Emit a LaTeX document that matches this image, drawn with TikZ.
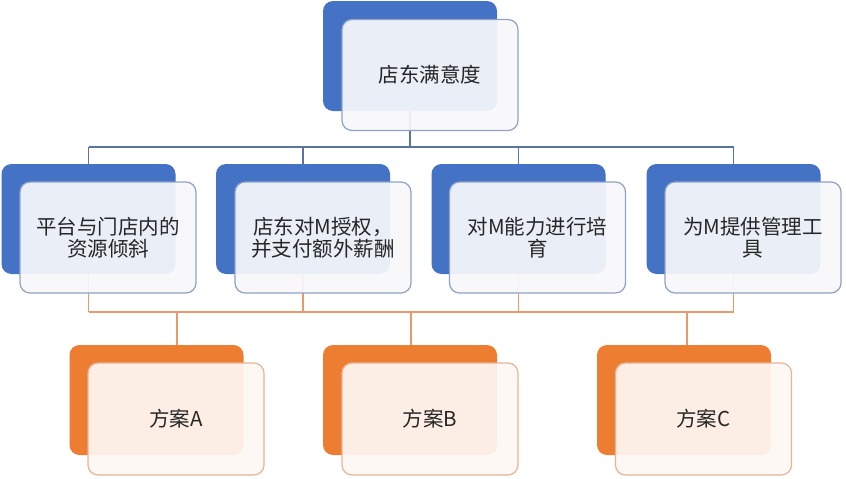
\documentclass[tikz,border=0pt]{standalone}
\usepackage{fontspec}
\setmainfont{Noto Sans CJK SC}
\definecolor{dblue}{HTML}{4472C4}
\definecolor{bfront}{HTML}{F7F8FB}
\definecolor{bborder}{HTML}{8EA2C6}
\definecolor{bline}{HTML}{5A74A0}
\definecolor{dorange}{HTML}{ED7D31}
\definecolor{ofront}{HTML}{FEF7F3}
\definecolor{oborder}{HTML}{E6B496}
\definecolor{oline}{HTML}{E99A6A}
\definecolor{txt}{HTML}{262626}
\tikzset{
  backb/.style={rectangle, rounded corners=10pt, fill=dblue, draw=none, minimum width=174pt, minimum height=110pt, inner sep=0pt},
  frontb/.style={rectangle, rounded corners=10pt, fill=bfront, fill opacity=0.93, draw=bborder, line width=1.2pt, minimum width=176pt, minimum height=111pt, inner sep=0pt, text opacity=1, text=txt, align=center, font=\fontsize{20.5}{22}\selectfont},
  backo/.style={backb, fill=dorange},
  fronto/.style={frontb, fill=ofront, draw=oborder},
  bconn/.style={draw=bline, line width=1.3pt},
  oconn/.style={draw=oline, line width=1.3pt},
}
\begin{document}
\begin{tikzpicture}[x=1pt,y=-1pt]
\useasboundingbox (0,0) rectangle (846,479);
% coordinates of buses
\coordinate (busB) at (0,147);
\coordinate (busO) at (0,312);
\coordinate (dA) at (177,312);
\coordinate (dB) at (411,312);
\coordinate (dC) at (687,312);
% back boxes (positions only, drawn later)
\path (410,56) node[backb, fill=none] (Tb) {};
\path (88.5,219) node[backb, fill=none] (L1b) {};
\path (303,219) node[backb, fill=none] (L2b) {};
\path (518.5,219) node[backb, fill=none] (L3b) {};
\path (733.5,219) node[backb, fill=none] (L4b) {};
\path (156.5,400) node[backb, fill=none] (Ab) {};
\path (410,400) node[backb, fill=none] (Bb) {};
\path (684,400) node[backb, fill=none] (Cb) {};
% connectors
\draw[bconn] (Tb.center) -- (Tb.center |- busB);
\draw[bconn] (L1b.north |- busB) -- (L4b.north |- busB);
\foreach \n in {L1b,L2b,L3b,L4b} {
  \draw[bconn] (\n.north |- busB) -- (\n.north);
  \draw[oconn] (\n.center) -- (\n.center |- busO);
}
\draw[oconn] (L1b.center |- busO) -- (L4b.center |- busO);
\draw[oconn] (dA) -- (dA |- Ab.north);
\draw[oconn] (dB) -- (dB |- Bb.north);
\draw[oconn] (dC) -- (dC |- Cb.north);
% boxes
\node[backb] at (Tb) {};
\node[frontb] (T) at (430,75) {店东满意度};
\node[backb] at (L1b) {};
\node[frontb] (L1) at (108,237.5) {平台与门店内的\\资源倾斜};
\node[backb] at (L2b) {};
\node[frontb] (L2) at (323,237.5) {店东对M授权，\\并支付额外薪酬};
\node[backb] at (L3b) {};
\node[frontb] (L3) at (537.5,237.5) {对M能力进行培\\育};
\node[backb] at (L4b) {};
\node[frontb] (L4) at (753,237.5) {为M提供管理工\\具};
\node[backo] at (Ab) {};
\node[fronto, minimum height=112pt] (A) at (176,419) {方案A};
\node[backo] at (Bb) {};
\node[fronto, minimum height=112pt] (B) at (430,419) {方案B};
\node[backo] at (Cb) {};
\node[fronto, minimum height=112pt] (C) at (703.5,419) {方案C};
\end{tikzpicture}
\end{document}
